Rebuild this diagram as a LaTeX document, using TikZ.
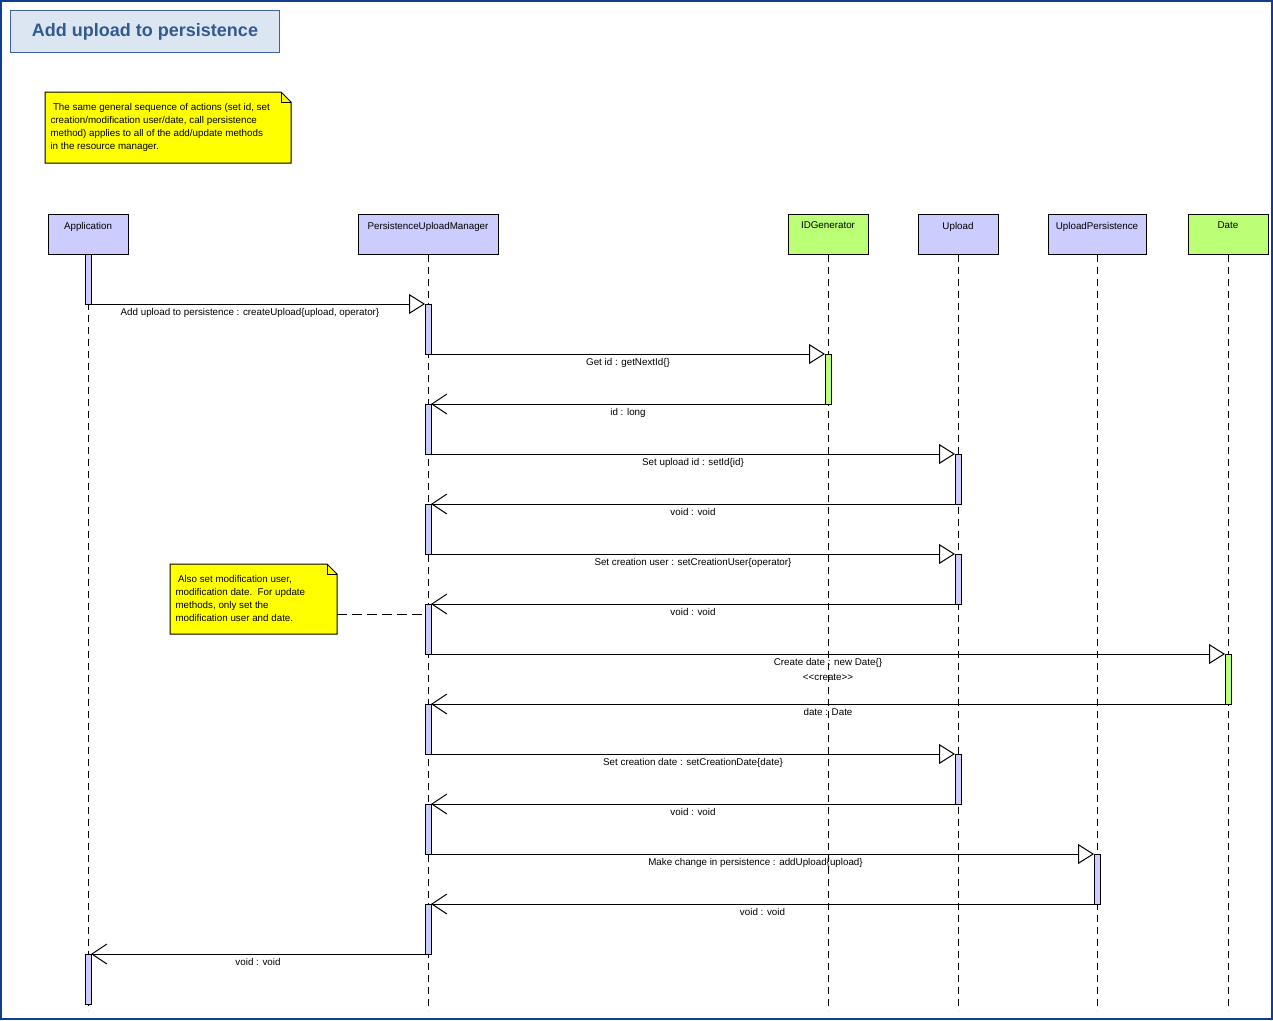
\documentclass[tikz,border=0pt]{standalone}
\usepackage{fontspec}
\newfontfamily\lblfont{Liberation Sans}
\usetikzlibrary{arrows.meta,calc}
\definecolor{frameblue}{RGB}{14,62,140}
\definecolor{titleblue}{RGB}{50,90,145}
\definecolor{titleborder}{RGB}{60,100,150}
\definecolor{titlefill}{RGB}{220,230,242}
\definecolor{lavender}{RGB}{204,204,255}
\definecolor{lime}{RGB}{187,255,119}
\definecolor{noteyellow}{RGB}{255,255,0}

\begin{document}
\begin{tikzpicture}[x=1pt,y=-1pt,line width=1pt,
  head/.style={draw=black,minimum width=#1,minimum height=40pt,inner sep=0pt},
  lav/.style={fill=lavender},
  grn/.style={fill=lime},
  headtxt/.style={anchor=north,font=\lblfont\fontsize{9.8}{11}\selectfont,inner sep=0pt,yshift=-8pt},
  lifeline/.style={dash pattern=on 7pt off 5pt},
  bar/.style={draw=black,minimum width=6pt,minimum height=50pt,inner sep=0pt,outer sep=0pt},
  call/.style={-{Triangle[open,length=16pt,width=20pt,fill=white]}},
  ret/.style={-{Straight Barb[length=15pt,width=20pt]}},
  msg/.style={anchor=north,font=\lblfont\fontsize{9.8}{15}\selectfont,inner sep=0pt,yshift=-4pt,align=center},
  notetext/.style={anchor=north west,font=\lblfont\fontsize{9.8}{13}\selectfont,inner sep=0pt,align=left},
  notebody/.style={draw=black,fill=noteyellow},
  noteline/.style={dash pattern=on 10pt off 5pt},
  ]
\useasboundingbox (0,0) rectangle (1273,1020);
\draw[frameblue,line width=2pt] (1,1) rectangle (1272,1019);

% title
\node[draw=titleborder,fill=titlefill,minimum width=269pt,minimum height=42pt,
      anchor=north west,inner sep=0pt,text=titleblue,
      font=\lblfont\bfseries\fontsize{18}{20}\selectfont] (title) at (10,10) {Add upload to persistence};

% general note
\draw[notebody] (45,92) -- (281,92) -- (291,102) -- (291,163) -- (45,163) -- cycle;
\draw (281,92) -- (281,102) -- (291,102);
\node[notetext] (note1) at (50,103) {\hspace{2.5pt}The same general sequence of actions (set id, set\\
creation/modification user/date, call persistence\\
method) applies to all of the add/update methods\\
in the resource manager.};

% lifeline heads
\node[head=80pt,lav] (app) at (88,234) {};
\node[head=140pt,lav] (pum) at (428,234) {};
\node[head=80pt,grn] (idg) at (828,234) {};
\node[head=80pt,lav] (upl) at (958,234) {};
\node[head=98pt,lav] (ups) at (1097,234) {};
\node[head=80pt,grn] (dat) at (1228,234) {};
\node[headtxt] at (app.north) {Application};
\node[headtxt] at (pum.north) {PersistenceUploadManager};
\node[headtxt] at (idg.north) {IDGenerator};
\node[headtxt] at (upl.north) {Upload};
\node[headtxt] at (ups.north) {UploadPersistence};
\node[headtxt] at (dat.north) {Date};

% lifelines
\foreach \n in {app,pum,idg,upl,ups,dat}{
  \coordinate (\n-end) at ($(\n.south)+(0,756)$);
  \draw[lifeline] (\n.south) -- (\n-end);
}

% activation bars
\node[bar,lav] (a1) at (88,279) {};
\node[bar,lav] (p1) at (428,329) {};
\node[bar,grn] (g1) at (828,379) {};
\node[bar,lav] (p2) at (428,429) {};
\node[bar,lav] (u1) at (958,479) {};
\node[bar,lav] (p3) at (428,529) {};
\node[bar,lav] (u2) at (958,579) {};
\node[bar,lav] (p4) at (428,629) {};
\node[bar,grn] (d1) at (1228,679) {};
\node[bar,lav] (p5) at (428,729) {};
\node[bar,lav] (u3) at (958,779) {};
\node[bar,lav] (p6) at (428,829) {};
\node[bar,lav] (s1) at (1097,879) {};
\node[bar,lav] (p7) at (428,929) {};
\node[bar,lav] (a2) at (88,979) {};

% messages
\draw[call] (a1.south east) -- node[msg,xshift=-8pt] {Add upload to persistence : createUpload\{upload, operator\}} (p1.north west);
\draw[call] (p1.south east) -- node[msg] {Get id : getNextId\{\}} (g1.north west);
\draw[ret] (g1.south west) -- node[msg] {id : long} (p2.north east);
\draw[call] (p2.south east) -- node[msg] {Set upload id : setId\{id\}} (u1.north west);
\draw[ret] (u1.south west) -- node[msg] {void : void} (p3.north east);
\draw[call] (p3.south east) -- node[msg] {Set creation user : setCreationUser\{operator\}} (u2.north west);
\draw[ret] (u2.south west) -- node[msg] {void : void} (p4.north east);
\draw[call] (p4.south east) -- node[msg] {Create date : new Date\{\}\\<<create>>} (d1.north west);
\draw[ret] (d1.south west) -- node[msg] {date : Date} (p5.north east);
\draw[call] (p5.south east) -- node[msg] {Set creation date : setCreationDate\{date\}} (u3.north west);
\draw[ret] (u3.south west) -- node[msg] {void : void} (p6.north east);
\draw[call] (p6.south east) -- node[msg,xshift=-7pt] {Make change in persistence : addUpload\{upload\}} (s1.north west);
\draw[ret] (s1.south west) -- node[msg] {void : void} (p7.north east);
\draw[ret] (p7.south west) -- node[msg] {void : void} (a2.north east);

% note on the creation step
\draw[notebody] (170,564) -- (327,564) -- (337,574) -- (337,634) -- (170,634) -- cycle;
\draw (327,564) -- (327,574) -- (337,574);
\node[notetext] (note2) at (175,575) {\hspace{2.5pt}Also set modification user,\\
modification date.\ \ For update\\
methods, only set the\\
modification user and date.};
\coordinate (note2-tie) at (337,614);
\draw[noteline] (note2-tie) -- (p4.west |- note2-tie);
\end{tikzpicture}
\end{document}
